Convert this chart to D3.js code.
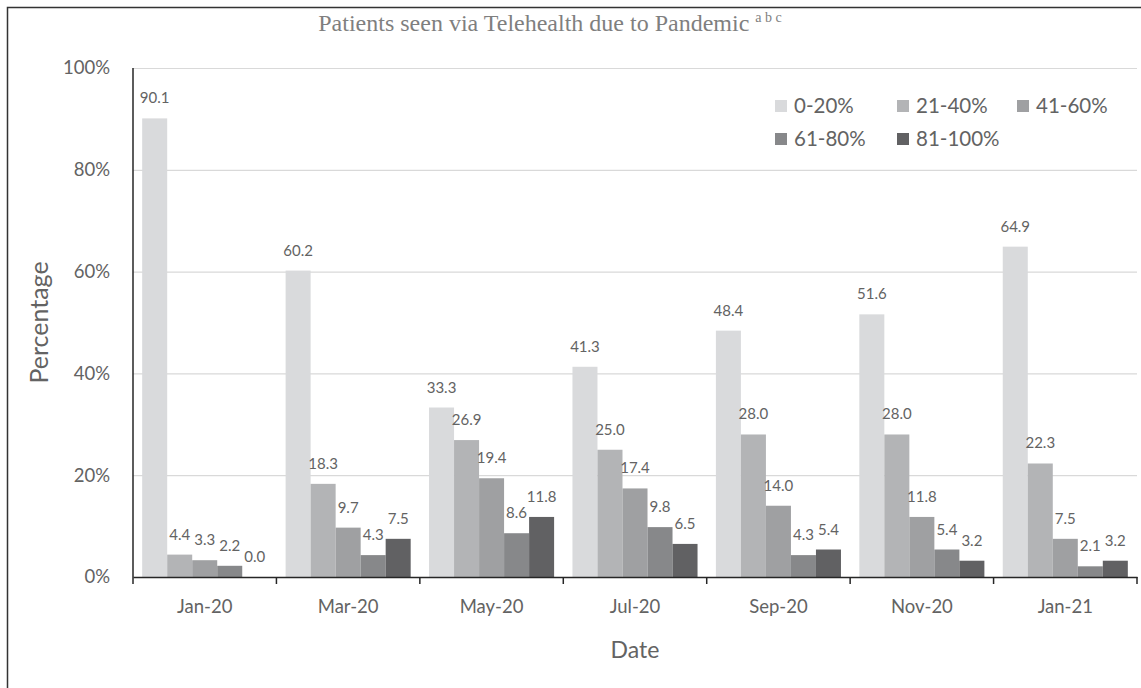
<!DOCTYPE html>
<html>
<head>
<meta charset="utf-8">
<script src="https://cdn.jsdelivr.net/npm/d3@7"></script>
<style>
  html, body { margin: 0; padding: 0; background: #fff; }
  svg { display: block; }
</style>
</head>
<body>
<svg id="chart" width="1141" height="688"></svg>
<script>
const categories = ["Jan-20", "Mar-20", "May-20", "Jul-20", "Sep-20", "Nov-20", "Jan-21"];
const seriesNames = ["0-20%", "21-40%", "41-60%", "61-80%", "81-100%"];
const s0to20   = [90.1, 60.2, 33.3, 41.3, 48.4, 51.6, 64.9];
const s21to40  = [4.4, 18.3, 26.9, 25.0, 28.0, 28.0, 22.3];
const s41to60  = [3.3, 9.7, 19.4, 17.4, 14.0, 11.8, 7.5];
const s61to80  = [2.2, 4.3, 8.6, 9.8, 4.3, 5.4, 2.1];
const s81to100 = [0.0, 7.5, 11.8, 6.5, 5.4, 3.2, 3.2];
const yTicks = [0, 20, 40, 60, 80, 100];
const seriesColors = ["#d9dadc", "#b3b4b6", "#9fa0a2", "#87888a", "#616163"];

const seriesValues = [s0to20, s21to40, s41to60, s61to80, s81to100];
const font = "Lato, 'Open Sans', sans-serif";
const textCol = "#636363";

const svg = d3.select("#chart");

// outer frame
svg.append("rect").attr("x", 7.5).attr("y", 7.5).attr("width", 1300).attr("height", 900)
  .attr("fill", "none").attr("stroke", "#333").attr("stroke-width", 1.5);

const plot = { left: 133, right: 1137, top: 68, bottom: 577 };

const x0 = d3.scaleBand().domain(categories).range([plot.left, plot.right]).padding(0);
const bw = x0.bandwidth();
const pad = bw * 0.064;
const x1 = d3.scaleBand().domain(seriesNames).range([pad, bw - pad]).padding(0);
const y = d3.scaleLinear().domain([0, 100]).range([plot.bottom, plot.top]);

// gridlines
svg.append("g").selectAll("line").data(yTicks.filter(d => d > 0)).join("line")
  .attr("x1", plot.left).attr("x2", plot.right)
  .attr("y1", d => y(d) + 0.5).attr("y2", d => y(d) + 0.5)
  .attr("stroke", "#d9d9d9").attr("stroke-width", 1.2);

// y tick labels
svg.append("g").selectAll("text").data(yTicks).join("text")
  .attr("x", 110).attr("y", d => y(d)).attr("dy", "0.35em")
  .attr("text-anchor", "end").attr("font-family", font).attr("font-size", 18.5)
  .attr("fill", textCol).text(d => d + "%");

// bars
const groups = svg.append("g").selectAll("g").data(categories).join("g")
  .attr("transform", d => `translate(${x0(d)},0)`);

groups.each(function(cat, ci) {
  const g = d3.select(this);
  const rows = seriesNames.map((s, si) => ({ s, si, v: seriesValues[si][ci] }));
  g.selectAll("rect").data(rows).join("rect")
    .attr("x", d => x1(d.s)).attr("width", x1.bandwidth())
    .attr("y", d => y(d.v)).attr("height", d => y(0) - y(d.v))
    .attr("fill", d => seriesColors[d.si]);
  g.selectAll("text").data(rows).join("text")
    .attr("x", d => x1(d.s) + x1.bandwidth() / 2)
    .attr("y", d => y(d.v) - 15)
    .attr("text-anchor", "middle").attr("font-family", font).attr("font-size", 15)
    .attr("fill", textCol).text(d => d.v.toFixed(1));
});

// axes lines
svg.append("line").attr("x1", plot.left).attr("x2", plot.left)
  .attr("y1", plot.top).attr("y2", plot.bottom)
  .attr("stroke", "#262626").attr("stroke-width", 1.5);
const xAxis = d3.axisBottom(x0).tickSize(0).tickPadding(23);
const xg = svg.append("g").attr("transform", `translate(0,${plot.bottom})`).call(xAxis);
xg.select(".domain").attr("stroke", "#262626").attr("stroke-width", 1.5);
xg.selectAll("text").attr("font-family", font).attr("font-size", 18.5).attr("fill", textCol);
// boundary ticks
const bounds = categories.map(c => x0(c)).concat([plot.right]);
svg.append("g").selectAll("line").data(bounds).join("line")
  .attr("x1", d => d).attr("x2", d => d)
  .attr("y1", plot.bottom).attr("y2", plot.bottom + 7)
  .attr("stroke", "#262626").attr("stroke-width", 1.5);

// axis titles
svg.append("text").attr("x", (plot.left + plot.right) / 2).attr("y", 658)
  .attr("text-anchor", "middle").attr("font-family", font).attr("font-size", 23)
  .attr("fill", textCol).text("Date");
svg.append("text").attr("transform", `translate(48,${(plot.top + plot.bottom) / 2}) rotate(-90)`)
  .attr("text-anchor", "middle").attr("font-family", font).attr("font-size", 25)
  .attr("fill", textCol).text("Percentage");

// title
const title = svg.append("text").attr("x", 550).attr("y", 31)
  .attr("text-anchor", "middle").attr("font-family", "'Liberation Serif', 'Times New Roman', serif")
  .attr("font-size", 24).attr("fill", "#7f7f7f");
title.append("tspan").text("Patients seen via Telehealth due to Pandemic ");
title.append("tspan").attr("font-size", 14).attr("dy", -9).text("a b c");

// legend
const legendPos = [[775, 106], [897, 106], [1017, 106], [775, 139], [897, 139]];
const leg = svg.append("g").selectAll("g").data(seriesNames).join("g")
  .attr("transform", (d, i) => `translate(${legendPos[i][0]},${legendPos[i][1]})`);
leg.append("rect").attr("x", 0).attr("y", -6).attr("width", 12).attr("height", 12)
  .attr("fill", (d, i) => seriesColors[i]);
leg.append("text").attr("x", 19).attr("y", 0).attr("dy", "0.35em")
  .attr("font-family", font).attr("font-size", 20.5).attr("fill", textCol).text(d => d);
</script>
</body>
</html>
